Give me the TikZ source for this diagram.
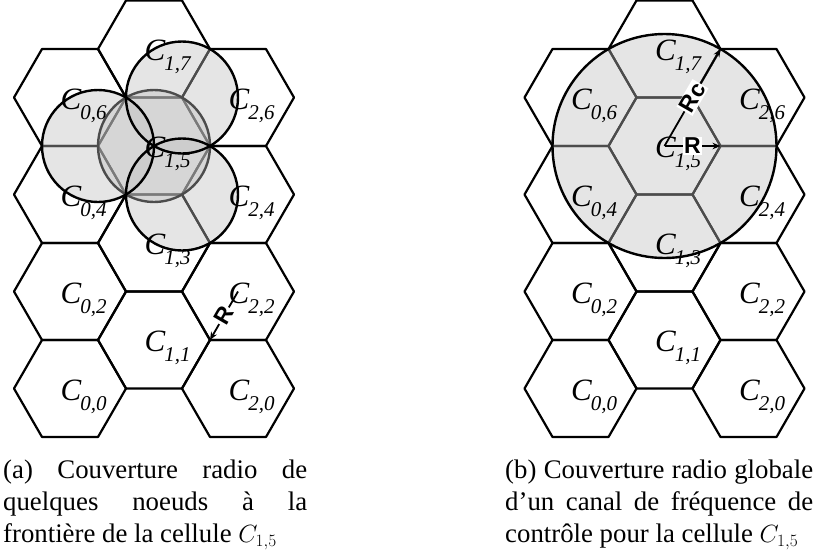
\documentclass[tikz,border=0pt]{standalone}
\usepackage[no-math]{fontspec}
\setmainfont{Liberation Serif}
\newfontfamily\lblsans{Liberation Sans}
\usetikzlibrary{arrows.meta}
\tikzset{
  hexline/.style={line width=2.2pt, line join=round, draw=black},
  zone/.style={fill=black!25, fill opacity=0.4},
  ring/.style={draw=black, line width=2.4pt},
  cell label/.style={inner sep=0pt, font=\fontsize{31}{31}\selectfont\itshape, xshift=1pt, yshift=-1.5pt},
  radius arrow/.style={line width=1.8pt, -{Stealth[length=8pt,width=6.5pt]}},
  radius text/.style={fill=white, inner sep=1.2pt, font=\lblsans\bfseries\fontsize{23}{23}\selectfont},
  caption text/.style={inner sep=0pt, anchor=base west, font=\fontsize{26.8}{32.4}\selectfont}
}
\newcommand\hexcell[3]{%
  \coordinate (#1) at (#2,#3);
  \draw[hexline] ([shift={(56,0)}]#1) -- ([shift={(28,48.5)}]#1) -- ([shift={(-28,48.5)}]#1)
    -- ([shift={(-56,0)}]#1) -- ([shift={(-28,-48.5)}]#1) -- ([shift={(28,-48.5)}]#1) -- cycle;}
\newcommand\celllabel[3]{%
  \node[cell label] (t#1) at (#1) {C\rlap{\kern-1pt\raisebox{-10pt}[0pt][0pt]{\fontsize{21}{21}\selectfont #2,#3}}};}
\begin{document}
\begin{tikzpicture}[x=1pt,y=-1pt]
\useasboundingbox (0,0) rectangle (819,555);
% ---------- panel (a) ----------
\hexcell{a00}{70}{388.5}
\hexcell{a02}{70}{291.5}
\hexcell{a04}{70}{194.5}
\hexcell{a06}{70}{97.5}
\hexcell{a11}{154}{340}
\hexcell{a13}{154}{243}
\hexcell{a15}{154}{146}
\hexcell{a17}{154}{49}
\hexcell{a20}{238}{388.5}
\hexcell{a22}{238}{291.5}
\hexcell{a24}{238}{194.5}
\hexcell{a26}{238}{97.5}
\coordinate (avl) at ([shift={(-56,0)}]a15);
\coordinate (avtr) at ([shift={(28,-48.5)}]a15);
\coordinate (avbr) at ([shift={(28,48.5)}]a15);
\coordinate (a11r) at ([shift={(56,0)}]a11);
\fill[zone] (a15) circle[radius=56pt];
\draw[ring] (a15) circle[radius=56pt];
\fill[zone] (avl) circle[radius=56pt];
\fill[zone] (avtr) circle[radius=56pt];
\fill[zone] (avbr) circle[radius=56pt];
\draw[ring] (avl) circle[radius=56pt];
\draw[ring] (avtr) circle[radius=56pt];
\draw[ring] (avbr) circle[radius=56pt];
\celllabel{a00}{0}{0}
\celllabel{a02}{0}{2}
\celllabel{a04}{0}{4}
\celllabel{a06}{0}{6}
\celllabel{a11}{1}{1}
\celllabel{a13}{1}{3}
\celllabel{a15}{1}{5}
\celllabel{a17}{1}{7}
\celllabel{a20}{2}{0}
\celllabel{a22}{2}{2}
\celllabel{a24}{2}{4}
\celllabel{a26}{2}{6}
\draw[radius arrow] (a22) -- node[radius text, rotate=60] (ra) {R} (a11r);
% ---------- panel (b) ----------
\hexcell{b00}{580.5}{388.5}
\hexcell{b02}{580.5}{291.5}
\hexcell{b04}{580.5}{194.5}
\hexcell{b06}{580.5}{97.5}
\hexcell{b11}{664.5}{340}
\hexcell{b13}{664.5}{243}
\hexcell{b15}{664.5}{146}
\hexcell{b17}{664.5}{49}
\hexcell{b20}{748.5}{388.5}
\hexcell{b22}{748.5}{291.5}
\hexcell{b24}{748.5}{194.5}
\hexcell{b26}{748.5}{97.5}
\coordinate (b15r) at ([shift={(56,0)}]b15);
\coordinate (b17r) at ([shift={(56,0)}]b17);
\fill[zone] (b15) circle[radius=112pt];
\draw[ring] (b15) circle[radius=112pt];
\celllabel{b00}{0}{0}
\celllabel{b02}{0}{2}
\celllabel{b04}{0}{4}
\celllabel{b06}{0}{6}
\celllabel{b11}{1}{1}
\celllabel{b13}{1}{3}
\celllabel{b15}{1}{5}
\celllabel{b17}{1}{7}
\celllabel{b20}{2}{0}
\celllabel{b22}{2}{2}
\celllabel{b24}{2}{4}
\celllabel{b26}{2}{6}
\draw[radius arrow] (b15) -- node[radius text] (rb) {R} (b15r);
\draw[radius arrow] (b15) -- node[radius text, rotate=60] (rcb) {Rc} (b17r);
% ---------- captions ----------
\node[caption text] (capa) at (3,478) {\parbox[t]{304pt}{\hyphenpenalty=10000 (a) Couverture radio de\linebreak quelques noeuds à la\linebreak frontière de la cellule $C_{1,5}$}};
\node[caption text] (capb) at (505,478) {\parbox[t]{308pt}{\hyphenpenalty=10000 (b) Couverture radio globale\linebreak d’un canal de fréquence de\linebreak contrôle pour la cellule $C_{1,5}$}};
\end{tikzpicture}
\end{document}
